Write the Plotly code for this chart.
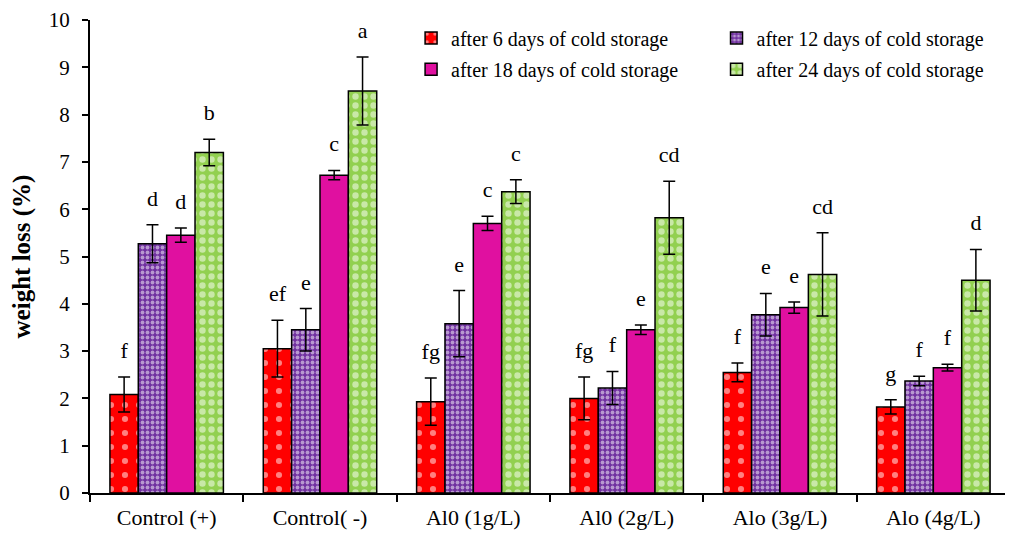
import plotly.graph_objects as go

categories = ["Control (+)", "Control( -)", "Al0 (1g/L)", "Al0 (2g/L)", "Alo (3g/L)", "Alo (4g/L)"]
series_names = ["after 6 days of cold storage", "after 12 days of cold storage",
                "after 18 days of cold storage", "after 24 days of cold storage"]

day6 = [2.08, 3.05, 1.93, 2.00, 2.55, 1.82]
day12 = [5.27, 3.45, 3.58, 2.22, 3.77, 2.37]
day18 = [5.45, 6.72, 5.70, 3.45, 3.92, 2.65]
day24 = [7.20, 8.50, 6.37, 5.82, 4.62, 4.50]

err6 = [0.37, 0.60, 0.50, 0.45, 0.20, 0.15]
err12 = [0.40, 0.45, 0.70, 0.35, 0.45, 0.10]
err18 = [0.15, 0.10, 0.15, 0.10, 0.12, 0.07]
err24 = [0.28, 0.72, 0.25, 0.77, 0.88, 0.65]

let6 = ["f", "ef", "fg", "fg", "f", "g"]
let12 = ["d", "e", "e", "f", "e", "f"]
let18 = ["d", "c", "c", "e", "e", "f"]
let24 = ["b", "a", "c", "cd", "cd", "d"]

values = [day6, day12, day18, day24]
errors = [err6, err12, err18, err24]
letters = [let6, let12, let18, let24]

patterns = [
    dict(shape=".", bgcolor="#FF0000", fgcolor="#FFFFFF", size=14, solidity=0.15, fillmode="overlay"),
    dict(shape=".", bgcolor="#7030A0", fgcolor="#FFFFFF", size=5, solidity=0.45, fillmode="overlay"),
    None,
    dict(shape=".", bgcolor="#92D050", fgcolor="#FFFFFF", size=9, solidity=0.4, fillmode="overlay"),
]
colors = ["#FF0000", "#7030A0", "#E010A0", "#92D050"]
legend_ids = ["legend", "legend3", "legend2", "legend4"]

FONT = "Liberation Serif"

fig = go.Figure()
for i in range(4):
    marker = dict(color=colors[i], line=dict(color="black", width=1.5))
    if patterns[i] is not None:
        marker["pattern"] = patterns[i]
    fig.add_trace(go.Bar(
        x=categories, y=values[i], name=series_names[i],
        marker=marker, offsetgroup=str(i), legend=legend_ids[i],
        error_y=dict(type="data", array=errors[i], color="black", thickness=1.5, width=6),
    ))

for i in range(4):
    tops = [v + e for v, e in zip(values[i], errors[i])]
    fig.add_trace(go.Scatter(
        x=categories, y=tops, mode="markers+text", text=letters[i],
        textposition="top center", offsetgroup=str(i), showlegend=False,
        marker=dict(size=20, opacity=0), hoverinfo="skip",
        textfont=dict(family=FONT, size=22, color="black"), cliponaxis=False,
    ))

leg_common = dict(font=dict(family=FONT, size=20, color="black"), bgcolor="rgba(0,0,0,0)",
                  xanchor="left", yanchor="middle", itemwidth=30)

fig.update_layout(
    width=1005, height=526,
    margin=dict(l=82, r=3, t=12, b=41),
    plot_bgcolor="white", paper_bgcolor="white",
    barmode="group", bargap=0.26, bargroupgap=0,
    scattermode="group", scattergap=0.26,
    font=dict(family=FONT, color="black"),
    legend=dict(x=0.349, y=0.962, **leg_common),
    legend2=dict(x=0.349, y=0.896, **leg_common),
    legend3=dict(x=0.681, y=0.962, **leg_common),
    legend4=dict(x=0.681, y=0.896, **leg_common),
    xaxis=dict(showline=True, linecolor="black", linewidth=2, ticks="outside",
               tickson="boundaries", ticklen=7, tickwidth=2, tickcolor="black",
               tickfont=dict(family=FONT, size=22, color="black"), showgrid=False,
               automargin=False, ticklabelstandoff=4),
    yaxis=dict(range=[0, 10], dtick=1, showline=True, linecolor="black", linewidth=2,
               ticks="outside", ticklen=6, tickwidth=2, tickcolor="black", showgrid=False,
               zeroline=False, automargin=False, ticklabelstandoff=8,
               tickfont=dict(family=FONT, size=21, color="black"),
               title=dict(text="<b>weight loss (%)</b>", font=dict(family=FONT, size=25, color="black"),
                          standoff=12)),
)

fig.write_html("out.html")
